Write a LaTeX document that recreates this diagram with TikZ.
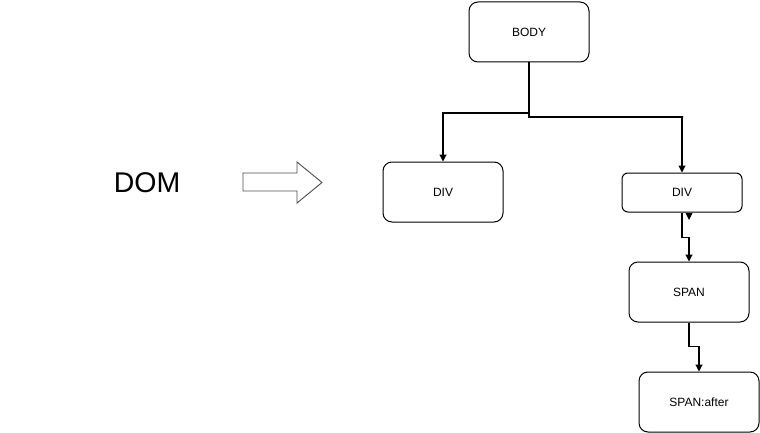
\documentclass[tikz,border=0pt]{standalone}
\usepackage{fontspec}
\setmainfont{Liberation Sans}
\usetikzlibrary{arrows.meta,shapes.arrows}
\begin{document}
\begin{tikzpicture}[x=1pt,y=-1pt,
  box/.style={draw,line width=1pt,rounded corners=9pt,minimum width=120pt,minimum height=60pt,inner sep=0pt,font=\fontsize{12}{14}\selectfont},
  conn/.style={draw,line width=1.1pt,-{Triangle[length=7pt,width=7pt]}}]
\useasboundingbox (0,0) rectangle (760,433);
\node[box] (body) at (529,32) {BODY};
\node[box] (div1) at (443,192) {DIV};
\node[box,minimum height=39pt,rounded corners=6pt] (div2) at (682,192.5) {DIV};
\node[box] (span) at (689,292) {SPAN};
\node[box] (after) at (699,402) {SPAN:after};
\node[font=\fontsize{28.5}{32}\selectfont] (dom) at (147,183) {DOM};
\draw[line width=0.9pt,draw=black!70] (243,173) -- (297,173) -- (297,162) -- (322,182.5) -- (297,203) -- (297,191) -- (243,191) -- cycle;
\draw[conn] (body.south) |- (529,113) -| (div1.north);
\draw[conn] (body.south) |- (683,117) -| (div2.north);
\draw[conn] (div2.south) |- (689,237.5) -| (span.north);
\draw[conn] (span.south) |- (699,346.5) -| (after.north);
\fill (685.5,213) -- (692.5,213) -- (689,220) -- cycle;
\end{tikzpicture}
\end{document}
